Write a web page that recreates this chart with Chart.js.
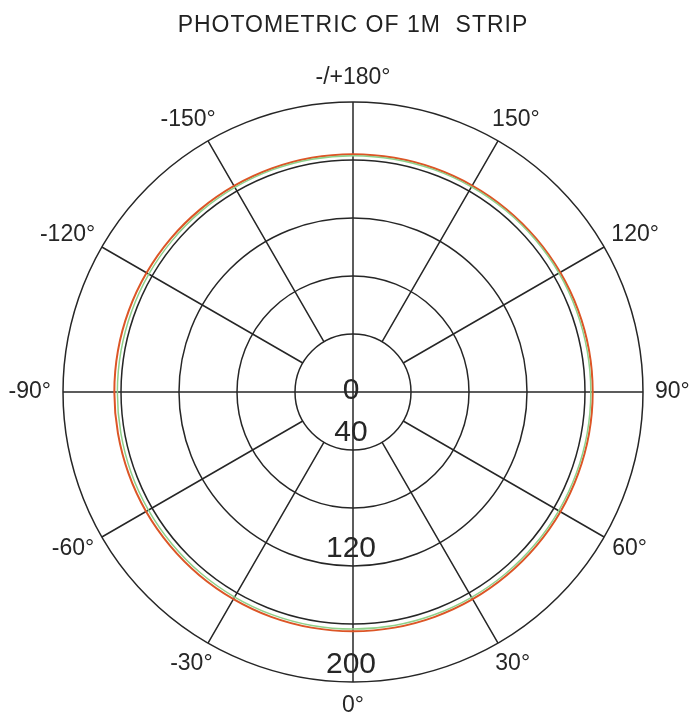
<!DOCTYPE html>
<html>
<head>
<meta charset="utf-8">
<script src="https://cdn.jsdelivr.net/npm/chart.js@4.4.1/dist/chart.umd.min.js"></script>
<style>
  body { margin: 0; background: #fff; }
</style>
</head>
<body>
<canvas id="chart1" width="697" height="722"></canvas>
<script>
'use strict';

// angles every 10 degrees, clockwise from the top of the diagram
const angles = [180, 170, 160, 150, 140, 130, 120, 110, 100, 90, 80, 70, 60, 50, 40, 30, 20, 10,
  0, -10, -20, -30, -40, -50, -60, -70, -80, -90, -100, -110, -120, -130, -140, -150, -160, -170];

const redValues = [164, 164, 164.2, 164.4, 164.6, 164.8, 165, 165.2, 165.3, 165.3, 165.3, 165.2,
  165.2, 165.1, 165, 165, 165, 165, 165, 165, 165, 164.9, 164.9, 164.8,
  164.8, 164.7, 164.6, 164.6, 164.6, 164.5, 164.4, 164.3, 164.2, 164.1, 164, 164];

const greenValues = [163, 163, 163.2, 163.4, 163.6, 163.8, 164, 164, 164, 164, 164, 163.9,
  163.8, 163.7, 163.6, 163.5, 163.5, 163.5, 163.5, 163.5, 163.4, 163.3, 163.2, 163,
  162.9, 162.8, 162.6, 162.5, 162.5, 162.5, 162.6, 162.7, 162.8, 162.9, 163, 163];

const spokeLabels = ['-/+180°', '150°', '120°', '90°', '60°', '30°', '0°', '-30°', '-60°', '-90°', '-120°', '-150°'];
const tickValues = [0, 40, 120, 200];

const lineColor = '#262626';

// a little letter spacing for the title only
const titleSpacing = {
  id: 'titleSpacing',
  beforeDraw(chart) { chart.ctx.letterSpacing = '1px'; },
  beforeDatasetsDraw(chart) { chart.ctx.letterSpacing = '0px'; }
};

// the slanted spokes start at the first ring, only the cross goes through the centre
const spokes = {
  id: 'spokes',
  beforeDatasetsDraw(chart) {
    const r = chart.scales.r;
    const ctx = chart.ctx;
    const inner = r.getDistanceFromCenterForValue(40);
    const outer = r.getDistanceFromCenterForValue(200);
    ctx.save();
    ctx.strokeStyle = lineColor;
    ctx.lineWidth = 1.5;
    ctx.beginPath();
    for (let i = 0; i < angles.length; i += 3) {
      if (i % 9 === 0) continue;
      const a = r.getPointPosition(i, inner);
      const b = r.getPointPosition(i, outer);
      ctx.moveTo(a.x, a.y);
      ctx.lineTo(b.x, b.y);
    }
    ctx.stroke();
    ctx.restore();
  }
};

// angle labels round the rim and value labels down the 0° spoke
const polarText = {
  id: 'polarText',
  afterDraw(chart) {
    const r = chart.scales.r;
    const ctx = chart.ctx;
    ctx.save();
    ctx.letterSpacing = '0px';
    ctx.fillStyle = '#262626';
    ctx.font = '23px "Liberation Sans", Arial, sans-serif';
    ctx.textAlign = 'center';
    ctx.textBaseline = 'middle';
    spokeLabels.forEach((txt, k) => {
      const t = k * Math.PI / 6;
      const w = ctx.measureText(txt).width;
      const end = r.getPointPosition(k * 3, r.drawingArea);
      const x = end.x + Math.sin(t) * (w / 2 + 12);
      const y = end.y - Math.cos(t) * 24;
      ctx.fillText(txt, x, y);
    });
    ctx.font = '30px "Liberation Sans", Arial, sans-serif';
    tickValues.forEach(v => {
      const d = r.getDistanceFromCenterForValue(v);
      ctx.fillText(String(v), r.xCenter - 2, r.yCenter + Math.max(d - 17, -1));
    });
    ctx.restore();
  }
};

function run() {
  const ctx = document.getElementById('chart1').getContext('2d');
  new Chart(ctx, {
    type: 'radar',
    data: {
      labels: angles,
      datasets: [
        {
          label: 'C90',
          data: greenValues,
          borderColor: '#8fd08a',
          borderWidth: 1.5,
          fill: false,
          pointRadius: 0,
          tension: 0.3
        },
        {
          label: 'C0',
          data: redValues,
          borderColor: '#dc5526',
          borderWidth: 2,
          fill: false,
          pointRadius: 0,
          tension: 0.3
        }
      ]
    },
    options: {
      responsive: false,
      animation: false,
      layout: { padding: { top: 0, left: 63, right: 54, bottom: 40 } },
      plugins: {
        legend: { display: false },
        tooltip: { enabled: false },
        title: {
          display: true,
          text: 'PHOTOMETRIC OF 1M  STRIP',
          color: '#222',
          font: { family: '"Liberation Sans", Arial, sans-serif', size: 23, weight: 'normal' },
          padding: { top: 12, bottom: 62.4 }
        }
      },
      scales: {
        r: {
          min: 0,
          max: 200,
          ticks: { display: false, stepSize: 40 },
          pointLabels: { display: false },
          grid: { circular: true, color: lineColor, lineWidth: 1.5 },
          angleLines: {
            color: lineColor,
            lineWidth: c => (c.index % 9 === 0 ? 1.5 : 0)
          }
        }
      }
    },
    plugins: [titleSpacing, spokes, polarText]
  });
}

window.addEventListener('load', run);
</script>
</body>
</html>
